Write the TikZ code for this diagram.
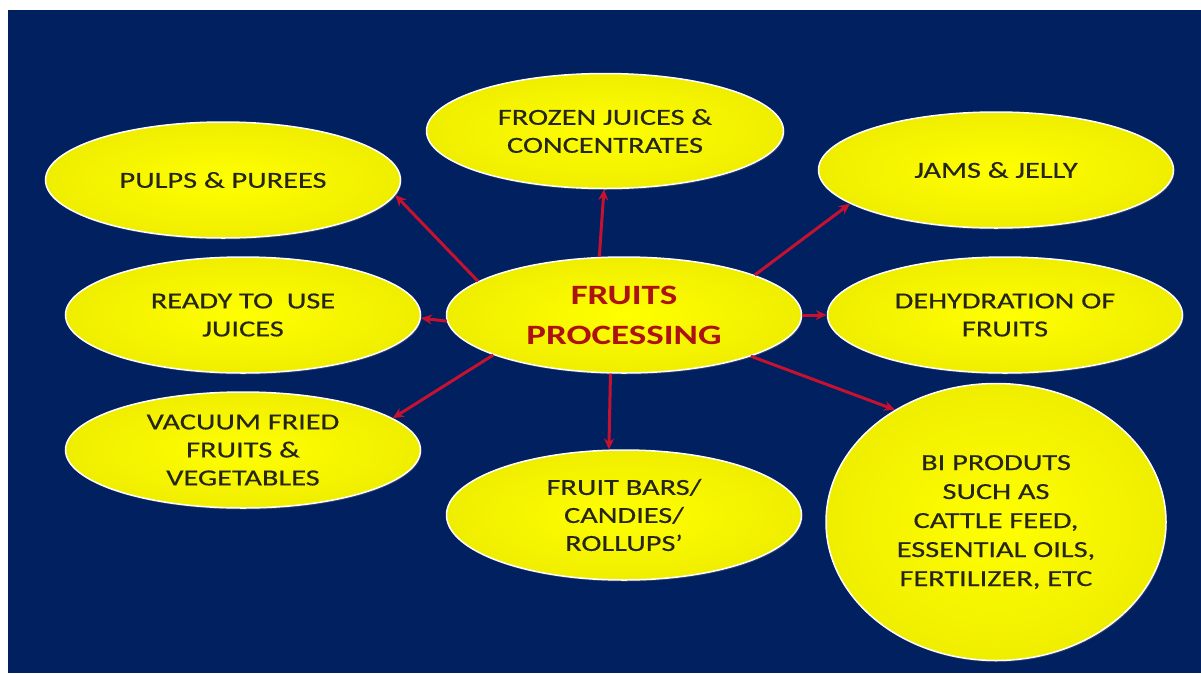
\documentclass[tikz,border=0pt]{standalone}
\usepackage{fontspec}
\setmainfont{Carlito}[FakeStretch=1.32, UprightFeatures={FakeBold=0.4}]
\usepackage{xcolor}
\usepackage{tikz}
\usetikzlibrary{shapes.geometric,arrows.meta,positioning,shadows}
\definecolor{slideblue}{RGB}{0,32,96}
\definecolor{fruityellow}{RGB}{255,255,0}
\definecolor{edgeyellow}{RGB}{240,238,0}
\definecolor{arrowred}{RGB}{196,18,48}
\definecolor{hubred}{RGB}{172,18,18}
\definecolor{labelgray}{RGB}{38,38,24}

\begin{document}
\begin{tikzpicture}[x=1pt, y=1pt, on grid,
    fruitbox/.style={ellipse, draw=white, line width=1.5pt, inner color=fruityellow, outer color=edgeyellow, minimum width=355pt, minimum height=116pt, inner sep=0pt, align=center, text=labelgray, font=\fontsize{23}{28}\selectfont, drop shadow={opacity=0.35, shadow xshift=1pt, shadow yshift=-1.5pt}},
    link/.style={-{Stealth[length=11pt, width=10pt]}, line width=3pt, arrowred}]
        \useasboundingbox (0,0) rectangle (1201,-673);
        \fill[slideblue] (8,-10) rectangle (1201,-673);

        \node[fruitbox, text=hubred, font=\fontsize{28}{40}\selectfont\bfseries] (fp) at (624,-315) {FRUITS\\PROCESSING};
        \node[fruitbox, above left=135pt and 401pt of fp] (pulps) {PULPS \& PUREES};
        \node[fruitbox, minimum width=357pt, minimum height=115pt, above left=184pt and 19pt of fp] (frozen) {FROZEN JUICES \&\\CONCENTRATES};
        \node[fruitbox, above right=145pt and 372pt of fp] (jams) {JAMS \& JELLY};
        \node[fruitbox, left=381pt of fp] (ready) {READY TO\ \ USE\\JUICES};
        \node[fruitbox, right=381pt of fp] (dehyd) {DEHYDRATION OF\\FRUITS};
        \node[fruitbox, below left=135pt and 381pt of fp] (vacuum) {VACUUM FRIED\\FRUITS \&\\VEGETABLES};
        \node[fruitbox, minimum height=130pt, below=200pt of fp] (bars) {FRUIT BARS/\\CANDIES/\\ROLLUPS’};
        \node[fruitbox, minimum width=340pt, minimum height=277pt, below right=207pt and 372pt of fp, font=\fontsize{23}{29}\selectfont] (bi) {BI PRODUTS\\SUCH AS\\CATTLE FEED,\\ESSENTIAL OILS,\\FERTILIZER, ETC};

        \draw[link] (fp.167.6) -- (pulps.-5.8);
        \draw[link] (fp.113.7) -- (frozen.-91);
        \draw[link] (fp.17.6) -- (jams.193.6);
        \draw[link] (fp.182.6) -- (ready.-1);
        \draw[link] (fp.0) -- (dehyd.180);
        \draw[link] (fp.197) -- (vacuum.12.5);
        \draw[link] (fp.-103.6) -- (bars.103.8);
        \draw[link] (fp.-18.4) -- (bi.132.4);
      \end{tikzpicture}
\end{document}
